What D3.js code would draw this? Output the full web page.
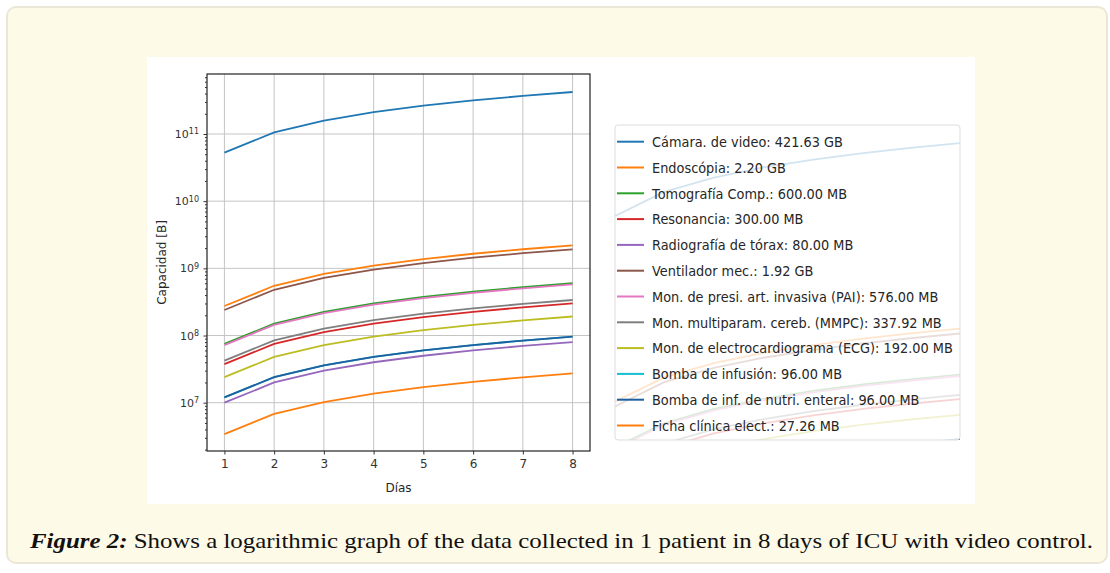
<!DOCTYPE html>
<meta charset="utf-8">
<title>Capacidad por días</title>
<style>
body {
  margin: 0;
  background: #fff;
}
text {
  font-family: "DejaVu Sans", sans-serif;
  fill: #262626;
}
.tick line {
  stroke: #333;
}
</style>
<body>
<script src="https://d3js.org/d3.v7.min.js"></script>
<script>
// dias y volumen acumulado por equipo (MB)
var dias = [1, 2, 3, 4, 5, 6, 7, 8];
var camara = [52703.75, 105407.5, 158111.25, 210815, 263518.75, 316222.5, 368926.25, 421630];
var endoscopia = [275, 550, 825, 1100, 1375, 1650, 1925, 2200];
var tomografia = [75, 150, 225, 300, 375, 450, 525, 600];
var resonancia = [37.5, 75, 112.5, 150, 187.5, 225, 262.5, 300];
var radiografia = [10, 20, 30, 40, 50, 60, 70, 80];
var ventilador = [240, 480, 720, 960, 1200, 1440, 1680, 1920];
var pai = [72, 144, 216, 288, 360, 432, 504, 576];
var mmpc = [42.24, 84.48, 126.72, 168.96, 211.2, 253.44, 295.68, 337.92];
var ecg = [24, 48, 72, 96, 120, 144, 168, 192];
var bombaInf = [12, 24, 36, 48, 60, 72, 84, 96];
var bombaNutri = [12, 24, 36, 48, 60, 72, 84, 96];
var ficha = [3.41, 6.82, 10.22, 13.63, 17.04, 20.45, 23.85, 27.26];

var etiquetas = [
  "Cámara. de video: 421.63 GB",
  "Endoscópia: 2.20 GB",
  "Tomografía Comp.: 600.00 MB",
  "Resonancia: 300.00 MB",
  "Radiografía de tórax: 80.00 MB",
  "Ventilador mec.: 1.92 GB",
  "Mon. de presi. art. invasiva (PAI): 576.00 MB",
  "Mon. multiparam. cereb. (MMPC): 337.92 MB",
  "Mon. de electrocardiograma (ECG): 192.00 MB",
  "Bomba de infusión: 96.00 MB",
  "Bomba de inf. de nutri. enteral: 96.00 MB",
  "Ficha clínica elect.: 27.26 MB"
];
var colores = ["#1f77b4", "#ff7f0e", "#2ca02c", "#d62728", "#9467bd", "#8c564b",
               "#e377c2", "#7f7f7f", "#bcbd22", "#17becf", "#1f5f9f", "#ff7f0e"];
var series = [camara, endoscopia, tomografia, resonancia, radiografia, ventilador,
              pai, mmpc, ecg, bombaInf, bombaNutri, ficha];
var decadas = [7, 8, 9, 10, 11];

var pL = 207, pR = 590, pT = 74, pB = 451;

var svg = d3.select("body").append("svg")
    .attr("width", 1110)
    .attr("height", 573);

// marco de la figura
svg.append("rect")
    .attr("x", 7).attr("y", 7)
    .attr("width", 1100).attr("height", 556)
    .attr("rx", 9)
    .attr("fill", "#fefae8")
    .attr("stroke", "#ebe7d8")
    .attr("stroke-width", 2);
svg.append("rect")
    .attr("x", 147).attr("y", 57)
    .attr("width", 828).attr("height", 447)
    .attr("fill", "#fff");

var x = d3.scaleLinear().domain([0.65, 8.35]).range([pL, pR]);
var y = d3.scaleLog().domain([Math.pow(10, 6.281), Math.pow(10, 11.893)]).range([pB, pT]);

var line = d3.line()
    .x(function(d, i) { return x(dias[i]); })
    .y(function(d) { return y(d * 1e6); });

// grid
svg.append("g").selectAll("line")
    .data(dias)
  .enter().append("line")
    .attr("x1", x).attr("x2", x)
    .attr("y1", pT).attr("y2", pB)
    .attr("stroke", "#c4c4c4");
svg.append("g").selectAll("line")
    .data(decadas)
  .enter().append("line")
    .attr("x1", pL).attr("x2", pR)
    .attr("y1", function(d) { return y(Math.pow(10, d)); })
    .attr("y2", function(d) { return y(Math.pow(10, d)); })
    .attr("stroke", "#c4c4c4");

svg.append("g").selectAll("path")
    .data(series)
  .enter().append("path")
    .attr("d", line)
    .attr("fill", "none")
    .attr("stroke", function(d, i) { return colores[i]; })
    .attr("stroke-width", 1.8);

svg.append("rect")
    .attr("x", pL).attr("y", pT)
    .attr("width", pR - pL).attr("height", pB - pT)
    .attr("fill", "none")
    .attr("stroke", "#222")
    .attr("stroke-width", 1.2);

// ejes
var xAxis = svg.append("g")
    .attr("transform", "translate(0," + pB + ")")
    .call(d3.axisBottom(x).tickValues(dias).tickSize(3.5).tickPadding(5).tickFormat(d3.format("d")));
xAxis.select(".domain").remove();
xAxis.selectAll("text").style("font-size", "12px").style("fill", "#333");

var minores = [];
[6, 7, 8, 9, 10, 11].forEach(function(e) {
  for (var k = 2; k < 10; k++) {
    var v = k * Math.pow(10, e);
    if (v >= y.domain()[0] && v <= y.domain()[1]) minores.push(v);
  }
});
var yMin = svg.append("g")
    .attr("transform", "translate(" + pL + ",0)")
    .call(d3.axisLeft(y).tickValues(minores).tickSize(2).tickFormat(""));
yMin.select(".domain").remove();
var yAxis = svg.append("g")
    .attr("transform", "translate(" + pL + ",0)")
    .call(d3.axisLeft(y).tickValues(decadas.map(function(e) { return Math.pow(10, e); })).tickSize(3.5).tickFormat(""));
yAxis.select(".domain").remove();
var yl = yAxis.selectAll(".tick").append("text")
    .attr("x", -8)
    .attr("dy", "0.32em")
    .attr("text-anchor", "end")
    .style("font-size", "11px")
    .style("fill", "#333");
yl.append("tspan").text("10");
yl.append("tspan")
    .attr("dy", "-0.45em")
    .style("font-size", "8px")
    .text(function(d) { return Math.round(Math.log10(d)); });

svg.append("text")
    .attr("transform", "translate(166," + (pT + pB) / 2 + ")rotate(-90)")
    .attr("text-anchor", "middle")
    .style("font-size", "12px")
    .text("Capacidad [B]");
svg.append("text")
    .attr("x", (pL + pR) / 2)
    .attr("y", 492)
    .attr("text-anchor", "middle")
    .style("font-size", "12px")
    .text("Días");

// copia tenue detrás de la leyenda
var lx = 615, ly = 125, lw = 345, lh = 315;
svg.append("clipPath").attr("id", "clipLeyenda")
  .append("rect").attr("x", lx).attr("y", ly).attr("width", lw).attr("height", lh);
var fantasma = svg.append("g")
    .attr("clip-path", "url(#clipLeyenda)")
  .append("g")
    .attr("transform", "translate(390,31.6)scale(1,1.21)");
fantasma.selectAll("path")
    .data(series)
  .enter().append("path")
    .attr("d", line)
    .attr("fill", "none")
    .attr("vector-effect", "non-scaling-stroke")
    .attr("stroke", function(d, i) { return colores[i]; })
    .attr("stroke-width", 1.8);
fantasma.append("line")
    .attr("x1", x(8)).attr("x2", x(8))
    .attr("y1", 0).attr("y2", 400)
    .attr("vector-effect", "non-scaling-stroke")
    .attr("stroke", "#555");

// leyenda
svg.append("rect")
    .attr("x", lx).attr("y", ly)
    .attr("width", lw).attr("height", lh)
    .attr("rx", 3)
    .attr("fill", "#fff")
    .attr("fill-opacity", 0.8)
    .attr("stroke", "#ddd");

var fila = svg.append("g").selectAll("g")
    .data(etiquetas)
  .enter().append("g")
    .attr("transform", function(d, i) { return "translate(" + (lx + 2) + "," + (141.7 + i * 25.8) + ")"; });
fila.append("line")
    .attr("x1", 0).attr("x2", 27)
    .attr("stroke", function(d, i) { return colores[i]; })
    .attr("stroke-width", 2);
var lt = fila.append("text")
    .attr("dy", "0.36em")
    .style("font-size", "14.5px")
    .text(function(d) { return d; });
var ancho = lt.nodes()[8].getComputedTextLength();
var sx = 301 / ancho;
lt.attr("transform", "translate(35,0)scale(" + sx + ",1)");

// pie de figura
var pie = svg.append("text")
    .attr("x", 30)
    .attr("y", 548)
    .attr("textLength", 1063)
    .attr("lengthAdjust", "spacingAndGlyphs")
    .style("font-family", "'Liberation Serif', serif")
    .style("font-size", "22px")
    .style("fill", "#111");
pie.append("tspan")
    .style("font-weight", "bold")
    .style("font-style", "italic")
    .text("Figure 2:");
pie.append("tspan")
    .text(" Shows a logarithmic graph of the data collected in 1 patient in 8 days of ICU with video control.");
</script>
